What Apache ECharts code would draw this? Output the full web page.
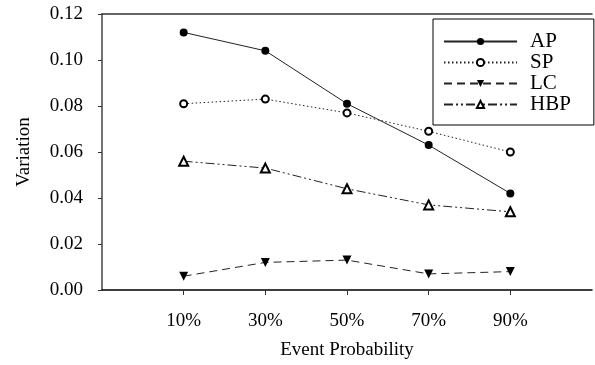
<!DOCTYPE html>
<html>
<head>
<meta charset="utf-8">
<script src="https://cdn.jsdelivr.net/npm/echarts@6/dist/echarts.min.js"></script>
<style>
	html, body { margin: 0; padding: 0; background: #fff; }
	#chart { width: 595px; height: 365px; }
</style>
</head>
<body>
<div id="chart"></div>
<script>
// event probability categories
let categories = ['10%', '30%', '50%', '70%', '90%'];
let apData = [0.112, 0.104, 0.081, 0.063, 0.042];
let spData = [0.081, 0.083, 0.077, 0.069, 0.060];
let lcData = [0.006, 0.012, 0.013, 0.007, 0.008];
let hbpData = [0.056, 0.053, 0.044, 0.037, 0.034];
let yTicks = [0, 0.02, 0.04, 0.06, 0.08, 0.10, 0.12];

let font = 'Liberation Serif, Times New Roman, serif';

// empty slot on each side so the points sit inside the frame
let axisData = [''].concat(categories, ['']);
function pad(arr) {
	return ['-'].concat(arr, ['-']);
}

let chart = echarts.init(document.getElementById('chart'));

let option = {
	backgroundColor: '#fff',
	animation: false,
	textStyle: { fontFamily: font, color: '#000' },
	grid: {
		left: 102,
		right: 0,
		top: 14,
		bottom: 74
	},
	legend: {
		orient: 'vertical',
		left: 433,
		top: 19,
		padding: [12, 23, 10, 10],
		itemWidth: 73,
		itemHeight: 9,
		itemGap: 0,
		borderColor: '#000',
		borderWidth: 1,
		textStyle: {
			fontFamily: font,
			fontSize: 21,
			lineHeight: 19.5,
			color: '#000',
			padding: [0, 0, 0, 8]
		},
		data: ['AP', 'SP', 'LC', 'HBP']
	},
	xAxis: [{
		type: 'category',
		data: axisData,
		boundaryGap: false,
		name: 'Event Probability',
		nameLocation: 'middle',
		nameGap: 51,
		nameTextStyle: { fontFamily: font, fontSize: 19, color: '#000' },
		axisLine: { lineStyle: { color: '#000', width: 1.5 } },
		axisTick: {
			length: 5,
			lineStyle: { color: '#333' },
			interval: function (i) { return i > 0 && i < axisData.length - 1; }
		},
		axisLabel: {
			fontFamily: font,
			fontSize: 19,
			color: '#000',
			margin: 22,
			interval: 0
		},
		splitLine: { show: false }
	}, {
		type: 'category',
		data: axisData,
		position: 'top',
		boundaryGap: false,
		axisLine: { lineStyle: { color: '#333', width: 1.5 } },
		axisTick: { show: false },
		axisLabel: { show: false },
		splitLine: { show: false }
	}],
	yAxis: {
		type: 'value',
		min: yTicks[0],
		max: yTicks[yTicks.length - 1],
		interval: 0.02,
		name: 'Variation',
		nameLocation: 'middle',
		nameRotate: 90,
		nameGap: 68,
		nameTextStyle: { fontFamily: font, fontSize: 19, color: '#000' },
		axisLine: { show: true, lineStyle: { color: '#444', width: 1.5 } },
		axisTick: { show: true, length: 4, lineStyle: { color: '#333' } },
		axisLabel: {
			fontFamily: font,
			fontSize: 19,
			color: '#000',
			margin: 19,
			formatter: function (v) { return v.toFixed(2); }
		},
		splitLine: { show: false }
	},
	series: [{
		name: 'AP',
		type: 'line',
		data: pad(apData),
		symbol: 'circle',
		symbolSize: 8,
		itemStyle: { color: '#000' },
		lineStyle: { color: '#222', width: 1 }
	}, {
		name: 'SP',
		type: 'line',
		data: pad(spData),
		symbol: 'emptyCircle',
		symbolSize: 7,
		itemStyle: { color: '#000', borderWidth: 1 },
		lineStyle: { color: '#222', width: 1, type: [1.5, 2.5] }
	}, {
		name: 'LC',
		type: 'line',
		data: pad(lcData),
		symbol: 'triangle',
		symbolRotate: 180,
		symbolSize: 9,
		itemStyle: { color: '#000' },
		lineStyle: { color: '#222', width: 1, type: [8, 5] }
	}, {
		name: 'HBP',
		type: 'line',
		data: pad(hbpData),
		symbol: 'emptyTriangle',
		symbolSize: 9,
		itemStyle: { color: '#000', borderWidth: 1 },
		lineStyle: { color: '#222', width: 1, type: [9, 3, 2, 3, 2, 3] }
	}]
};

chart.setOption(option);
</script>
</body>
</html>
